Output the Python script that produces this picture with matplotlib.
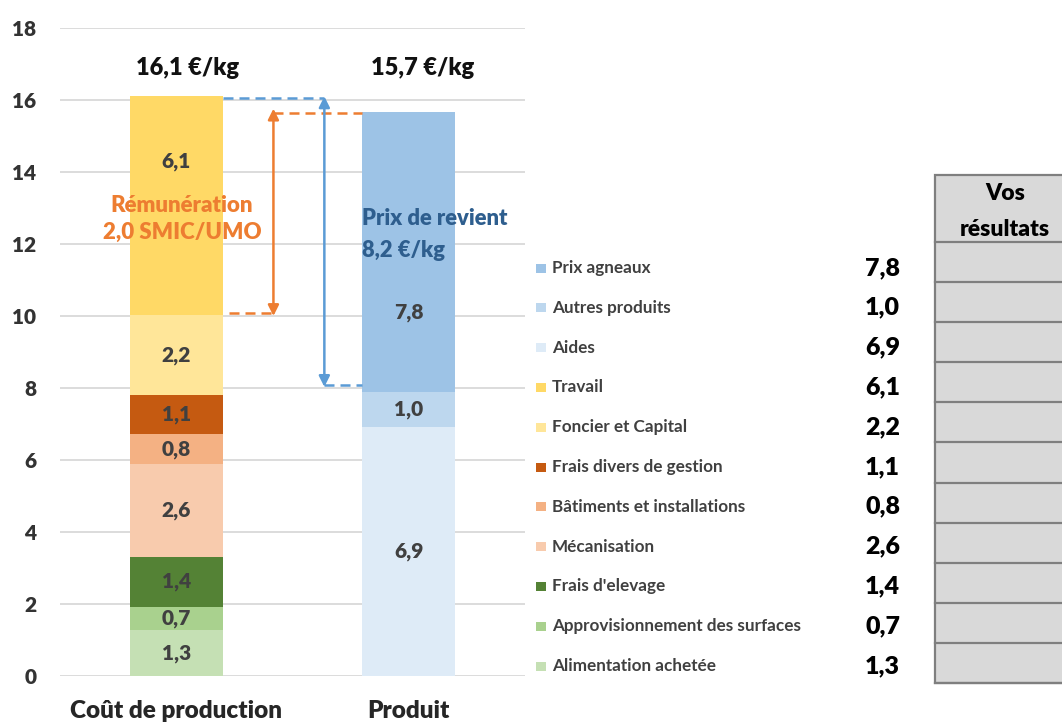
import matplotlib
matplotlib.use("Agg")
import matplotlib.pyplot as plt
from matplotlib.patches import Rectangle

plt.rcParams['font.family'] = ['Lato', 'DejaVu Sans']

# ---------------- data ----------------
categories = ["Coût de production", "Produit"]

cost_labels = ["Alimentation achetée", "Approvisionnement des surfaces", "Frais d'elevage",
               "Mécanisation", "Bâtiments et installations", "Frais divers de gestion",
               "Foncier et Capital", "Travail"]
cost_values = [1.27, 0.66, 1.38, 2.57, 0.84, 1.08, 2.22, 6.08]
cost_colors = ["#C5E0B4", "#A9D18E", "#548235", "#F8CBAD", "#F4B183", "#C55A11",
               "#FFE699", "#FFD966"]

product_labels = ["Aides", "Autres produits", "Prix agneaux"]
product_values = [6.91, 0.97, 7.78]
product_colors = ["#DEEBF7", "#BDD7EE", "#9DC3E6"]

remuneration_text = ["Rémunération", "2,0 SMIC/UMO"]
prix_revient_text = ["Prix de revient", "8,2 €/kg"]
table_header = ["Vos", "résultats"]
y_ticks = [0, 2, 4, 6, 8, 10, 12, 14, 16, 18]

# -------------- helpers ---------------
def fr(v, fmt="{:.1f}"):
    return fmt.format(v).replace(".", ",")

HEAVY = 800
W, H = 1062, 722
fig = plt.figure(figsize=(W / 100, H / 100), dpi=100)
ax = fig.add_axes([60 / W, (H - 676) / H, 465 / W, 648 / H])

bar_w = 0.4
label_color = "#404040"
label_pos_override = {"Travail": 14.3, "Prix agneaux": 10.1}

def draw_stack(x, labels, values, colors):
    bottom = 0.0
    for lab, val, col in zip(labels, values, colors):
        ax.bar(x, val, bottom=bottom, width=bar_w, color=col, edgecolor="none", zorder=2)
        ypos = label_pos_override.get(lab, bottom + val / 2)
        ax.text(x, ypos, fr(val), ha="center", va="center", fontsize=15,
                fontweight=HEAVY, color=label_color, zorder=4)
        bottom += val
    return bottom

cost_total = draw_stack(0, cost_labels, cost_values, cost_colors)
prod_total = draw_stack(1, product_labels, product_values, product_colors)

# totals above bars
ax.text(0.05, 16.9, fr(cost_total) + " €/kg", ha="center", va="center",
        fontsize=17, fontweight=HEAVY, color="#111111")
ax.text(1.06, 16.9, fr(prod_total) + " €/kg", ha="center", va="center",
        fontsize=17, fontweight=HEAVY, color="#111111")

# axes styling
ax.set_xlim(-0.5, 1.5)
ax.set_ylim(0, 18)
ax.set_yticks(y_ticks)
ax.set_yticklabels([str(t) for t in y_ticks], fontsize=15, fontweight=HEAVY,
                   color="#333333")
ax.set_xticks([0, 1])
ax.set_xticklabels(categories, fontsize=17.5, fontweight=HEAVY, color="#262626")
ax.tick_params(axis="y", length=0, pad=17)
ax.tick_params(axis="x", length=0, pad=17)
ax.grid(axis="y", color="#D9D9D9", lw=1.3, zorder=0)
ax.set_axisbelow(True)
for s in ax.spines.values():
    s.set_visible(False)

# ---- annotations: arrows and dashed lines ----
orange = "#ED7D31"
blue = "#5B9BD5"
foncier_top = sum(cost_values[:7])
product_low_top = sum(product_values[:2])

x_or = 0.418
x_bl = 0.637
dash = (0, (4, 2.4))
# orange
ax.plot([0.225, x_or], [foncier_top + 0.05, foncier_top + 0.05], color=orange, lw=1.8,
        ls=dash, zorder=3)
ax.plot([x_or, 0.8], [prod_total - 0.03, prod_total - 0.03], color=orange, lw=1.8,
        ls=dash, zorder=3)
ax.annotate("", xy=(x_or, foncier_top - 0.02), xytext=(x_or, prod_total + 0.1),
            arrowprops=dict(arrowstyle="<|-|>", color=orange, lw=1.8,
                            mutation_scale=16, shrinkA=0, shrinkB=0), zorder=3)
# blue
ax.plot([0.2, x_bl], [cost_total - 0.05, cost_total - 0.05], color=blue, lw=1.8,
        ls=dash, zorder=3)
ax.plot([x_bl, 0.8], [product_low_top + 0.2, product_low_top + 0.2], color=blue, lw=1.8,
        ls=dash, zorder=3)
ax.annotate("", xy=(x_bl, product_low_top + 0.15), xytext=(x_bl, cost_total),
            arrowprops=dict(arrowstyle="<|-|>", color=blue, lw=1.8,
                            mutation_scale=16, shrinkA=0, shrinkB=0), zorder=3)

# annotation texts
ax.text(0.025, 13.08, remuneration_text[0], ha="center", va="center", fontsize=16,
        fontweight=HEAVY, color=orange, zorder=5)
ax.text(0.025, 12.32, remuneration_text[1], ha="center", va="center", fontsize=16,
        fontweight=HEAVY, color=orange, zorder=5)
ax.text(0.797, 12.72, prix_revient_text[0], ha="left", va="center", fontsize=15.8,
        fontweight=HEAVY, color="#2E5E8E", zorder=5)
ax.text(0.797, 11.83, prix_revient_text[1], ha="left", va="center", fontsize=15.8,
        fontweight=HEAVY, color="#2E5E8E", zorder=5)

# ---- legend + values + table on an overlay (pixel coordinates) ----
ov = fig.add_axes([0, 0, 1, 1], zorder=-1)
ov.set_xlim(0, W)
ov.set_ylim(H, 0)
ov.axis("off")

legend_labels = product_labels[::-1] + cost_labels[::-1]
legend_values = product_values[::-1] + cost_values[::-1]
legend_colors = product_colors[::-1] + cost_colors[::-1]

row0, step = 268, 39.8
for i, (lab, val, col) in enumerate(zip(legend_labels, legend_values, legend_colors)):
    y = row0 + i * step
    ov.add_patch(Rectangle((536, y - 4.5), 10, 9, facecolor=col, edgecolor="none"))
    ov.text(552, y, lab, ha="left", va="center", fontsize=12.3, fontweight="bold",
            color="#404040")
    ov.text(900, y, fr(val), ha="right", va="center", fontsize=18,
            fontweight=HEAVY, color="#000000")

# table
t_left, t_top, t_bottom = 935, 175, 683
ov.add_patch(Rectangle((t_left, t_top), 200, t_bottom - t_top, facecolor="#D9D9D9",
                       edgecolor="#7F7F7F", lw=1.6))
n_rows = len(legend_labels)
row_top = 242
row_h = (t_bottom - row_top) / n_rows
for k in range(n_rows + 1):
    yy = row_top + k * row_h
    ov.plot([t_left, W + 5], [yy, yy], color="#7F7F7F", lw=1.6)
ov.text(1005, 193, table_header[0], ha="center", va="center", fontsize=16.5,
        fontweight=HEAVY, color="#000000")
ov.text(1005, 229, table_header[1], ha="center", va="center", fontsize=16.5,
        fontweight=HEAVY, color="#000000")

fig.savefig("out.png", dpi=100)
